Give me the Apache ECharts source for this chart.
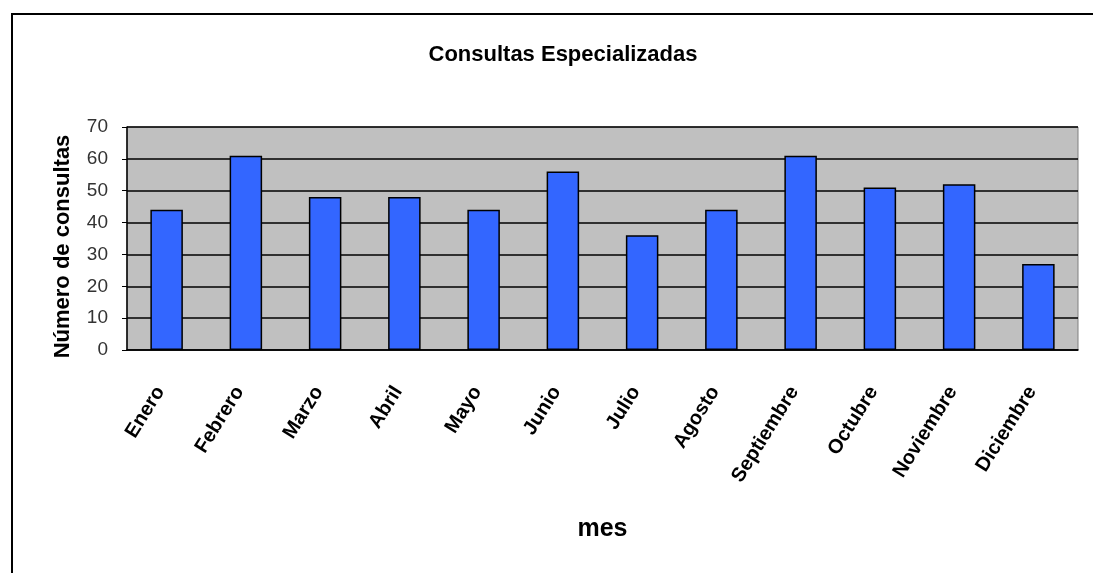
<!DOCTYPE html>
<html>
<head>
<meta charset="utf-8">
<script src="https://cdn.jsdelivr.net/npm/echarts@6/dist/echarts.min.js"></script>
<style>
  html, body { margin: 0; padding: 0; background: #fff; }
  #grafiek { width: 1093px; height: 573px; }
</style>
</head>
<body>
<div id="grafiek"></div>
<script>
// maanden en aantallen consultaties
let meses = ['Enero', 'Febrero', 'Marzo', 'Abril', 'Mayo', 'Junio', 'Julio',
    'Agosto', 'Septiembre', 'Octubre', 'Noviembre', 'Diciembre'];
let consultas = [44, 61, 48, 48, 44, 56, 36, 44, 61, 51, 52, 27];

let yMin = 0;
let yMax = 70;
let yStap = 10;

function toonGrafiek() {
    let grafiek = echarts.init(document.getElementById('grafiek'));
    let font = 'Liberation Sans, Arial, sans-serif';
    let option = {
        backgroundColor: '#ffffff',
        animation: false,
        title: {
            text: 'Consultas Especializadas',
            left: 558,
            top: 39,
            textAlign: 'center',
            textStyle: {
                fontFamily: font,
                fontSize: 22,
                fontWeight: 'bold',
                color: '#000'
            }
        },
        graphic: [
            {
                type: 'rect',
                shape: { x: 12, y: 14, width: 1200, height: 700 },
                style: { fill: 'none', stroke: '#000', lineWidth: 2 }
            }
        ],
        grid: {
            left: 127,
            right: 15,
            top: 127,
            bottom: 223,
            show: true,
            backgroundColor: '#c0c0c0',
            borderColor: '#808080',
            borderWidth: 1
        },
        xAxis: {
            type: 'category',
            data: meses,
            name: 'mes',
            nameLocation: 'middle',
            nameGap: 167,
            nameTextStyle: {
                fontFamily: font,
                fontSize: 25,
                fontWeight: 'bold',
                color: '#000'
            },
            axisLine: { lineStyle: { color: '#000', width: 1.5 } },
            axisTick: { length: 5, lineStyle: { color: '#000' } },
            axisLabel: {
                rotate: 58,
                margin: 28,
                padding: [0, 12, 0, 0],
                fontFamily: font,
                fontSize: 20,
                fontWeight: 'bold',
                color: '#000',
                interval: 0
            }
        },
        yAxis: {
            type: 'value',
            min: yMin,
            max: yMax,
            interval: yStap,
            name: 'Número de consultas',
            nameLocation: 'middle',
            nameGap: 53,
            nameTextStyle: {
                fontFamily: font,
                fontSize: 22,
                fontWeight: 'bold',
                color: '#000',
                padding: [0, 16, 0, 0]
            },
            axisLine: { show: true, lineStyle: { color: '#000', width: 1.5 } },
            axisTick: { show: true, length: 5, lineStyle: { color: '#000' } },
            axisLabel: {
                margin: 19,
                fontFamily: font,
                fontSize: 19,
                color: '#333'
            },
            splitLine: { lineStyle: { color: '#000', width: 1.5 } }
        },
        series: [
            {
                name: 'consultas',
                type: 'bar',
                data: consultas,
                barWidth: '41%',
                itemStyle: {
                    color: '#3366ff',
                    borderColor: '#000',
                    borderWidth: 1.5
                }
            }
        ]
    };
    grafiek.setOption(option);
}

window.onload = function () {
    toonGrafiek();
};
</script>
</body>
</html>
